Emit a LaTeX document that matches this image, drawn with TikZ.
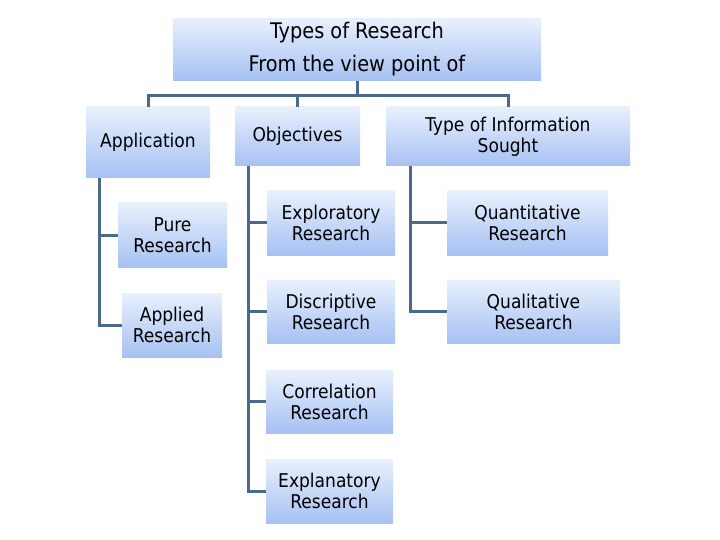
\documentclass[tikz,border=0pt]{standalone}
\usepackage{fontspec}
\setmainfont{DejaVu Sans Condensed}
\usetikzlibrary{calc}
\definecolor{linec}{RGB}{74,106,140}
\definecolor{boxtop}{RGB}{232,240,253}
\definecolor{boxbot}{RGB}{166,193,243}
\tikzset{
  box/.style={rectangle, inner sep=0pt, align=center, top color=boxtop, bottom color=boxbot, draw=none,
    font=\fontsize{19}{21}\selectfont},
  conn/.style={draw=linec, line width=3pt}
}
\begin{document}
\begin{tikzpicture}[x=1pt,y=-1pt]
\useasboundingbox (0,0) rectangle (720,540);
\node[box, minimum width=368, minimum height=62, font=\fontsize{21.5}{33}\selectfont] (top) at (357,49.5) {Types of Research\\From the view point of};
\node[box, minimum width=124, minimum height=71] (app) at (148,142.5) {Application};
\node[box, minimum width=125, minimum height=59] (obj) at (297.5,136.5) {Objectives};
\node[box, minimum width=244, minimum height=59] (type) at (508,136.5) {Type of Information\\Sought};
\node[box, minimum width=109, minimum height=64] (pure) at (172.5,235) {Pure\\Research};
\node[box, minimum width=100, minimum height=64] (appl) at (172,325) {Applied\\Research};
\node[box, minimum width=128, minimum height=64] (expl) at (331,223) {Exploratory\\Research};
\node[box, minimum width=128, minimum height=63] (disc) at (331,311.5) {Discriptive\\Research};
\node[box, minimum width=127, minimum height=63] (corr) at (329.5,401.5) {Correlation\\Research};
\node[box, minimum width=127, minimum height=64] (expn) at (329.5,491) {Explanatory\\Research};
\node[box, minimum width=161, minimum height=64] (quan) at (527.5,223) {Quantitative\\Research};
\node[box, minimum width=173, minimum height=63] (qual) at (533.5,311.5) {Qualitative\\Research};
\coordinate (busL) at (148,96);
\coordinate (busR) at (508,96);
\draw[conn] (top.south) -- (top.south |- busL);
\draw[conn] (app.north) -- (busL) -- (busR) -- (type.north);
\draw[conn] (obj.north) -- (obj.north |- busL);
\coordinate (appL) at ($(app.south west)+(14,0)$);
\coordinate (objL) at ($(obj.south west)+(14,0)$);
\coordinate (typeL) at ($(type.south west)+(25,0)$);
\draw[conn] (appL) |- (pure.west);
\draw[conn] (appL) |- (appl.west);
\draw[conn] (objL) |- (expl.west);
\draw[conn] (objL) |- (disc.west);
\draw[conn] (objL) |- (corr.west);
\draw[conn] (objL) |- (expn.west);
\draw[conn] (typeL) |- (quan.west);
\draw[conn] (typeL) |- (qual.west);
\end{tikzpicture}
\end{document}
